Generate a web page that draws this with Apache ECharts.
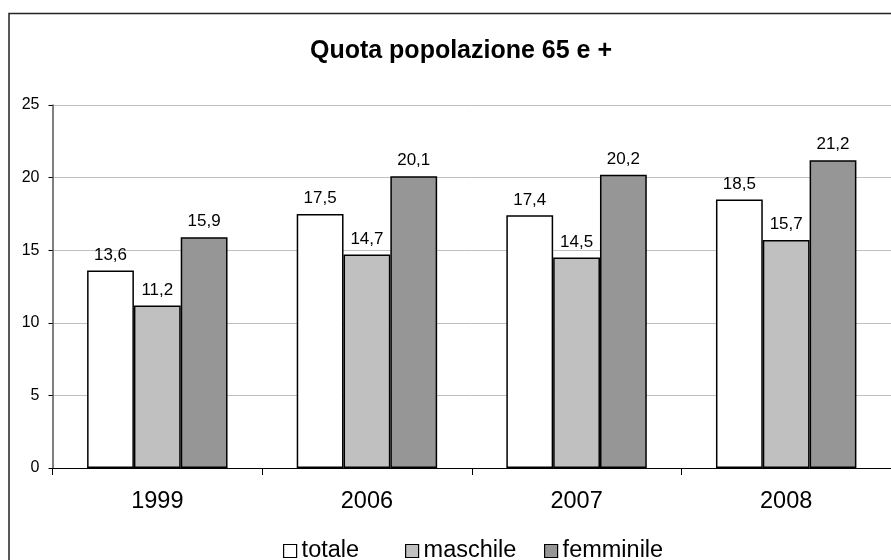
<!DOCTYPE html>
<html>
<head>
<meta charset="utf-8">
<script src="https://cdn.jsdelivr.net/npm/echarts@6/dist/echarts.min.js"></script>
<style>
  html, body { margin: 0; padding: 0; background: #fff; }
  #chart { width: 891px; height: 560px; }
</style>
</head>
<body>
<div id="chart"></div>
<script>
const years = ["1999", "2006", "2007", "2008"];
const totale = [13.6, 17.5, 17.4, 18.5];
const maschile = [11.2, 14.7, 14.5, 15.7];
const femminile = [15.9, 20.1, 20.2, 21.2];
const seriesNames = ["totale", "maschile", "femminile"];
const colors = ["#ffffff", "#c0c0c0", "#969696"];

const font = "'Liberation Sans', Arial, sans-serif";
// posizioni delle voci di legenda (padding 5 incluso)
const legendLeft = [278, 400, 539];

// etichetta con la virgola decimale
function fmt(p) {
  return p.value.toFixed(1).replace(".", ",");
}

function makeSeries(name, data, color) {
  return {
    name: name,
    type: "bar",
    data: data,
    barGap: "0%",
    barCategoryGap: "33%",
    itemStyle: { color: color, borderColor: "#000", borderWidth: 1.5 },
    label: {
      show: true,
      position: "top",
      distance: 7,
      formatter: fmt,
      color: "#000",
      fontSize: 17,
      fontFamily: font,
    },
  };
}

const chart = echarts.init(document.getElementById("chart"));
chart.setOption({
  animation: false,
  title: {
    text: "Quota popolazione 65 e +",
    left: 456,
    textAlign: "center",
    top: 34,
    textStyle: { fontSize: 25, fontWeight: "bold", color: "#000", fontFamily: font },
  },
  graphic: [
    {
      type: "rect",
      shape: { x: 9, y: 13.5, width: 900, height: 600 },
      style: { fill: "none", stroke: "#222", lineWidth: 1.5 },
      silent: true,
    },
  ],
  legend: seriesNames.map((n, i) => ({
    data: [n],
    left: legendLeft[i],
    top: 534,
    itemWidth: 13,
    itemHeight: 13,
    icon: "rect",
    itemStyle: { borderColor: "#000", borderWidth: 1.2 },
    textStyle: { fontSize: 23.5, color: "#000", fontFamily: font },
  })),
  grid: { left: 52.5, right: -2.5, top: 105, bottom: 92, containLabel: false },
  xAxis: {
    type: "category",
    data: years,
    axisLine: { lineStyle: { color: "#000", width: 1.2 } },
    axisTick: { show: true, length: 7, lineStyle: { color: "#000" } },
    axisLabel: { fontSize: 23.5, color: "#000", margin: 22, fontFamily: font },
  },
  yAxis: {
    type: "value",
    min: 0,
    max: 25,
    interval: 5,
    axisLine: { show: true, lineStyle: { color: "#555", width: 1.5 } },
    axisTick: { show: true, length: 4, lineStyle: { color: "#000" } },
    axisLabel: { fontSize: 16, color: "#000", margin: 13, fontFamily: font },
    splitLine: { lineStyle: { color: "#c0c0c0", width: 1 } },
  },
  series: [
    makeSeries(seriesNames[0], totale, colors[0]),
    makeSeries(seriesNames[1], maschile, colors[1]),
    makeSeries(seriesNames[2], femminile, colors[2]),
  ],
});
</script>
</body>
</html>
